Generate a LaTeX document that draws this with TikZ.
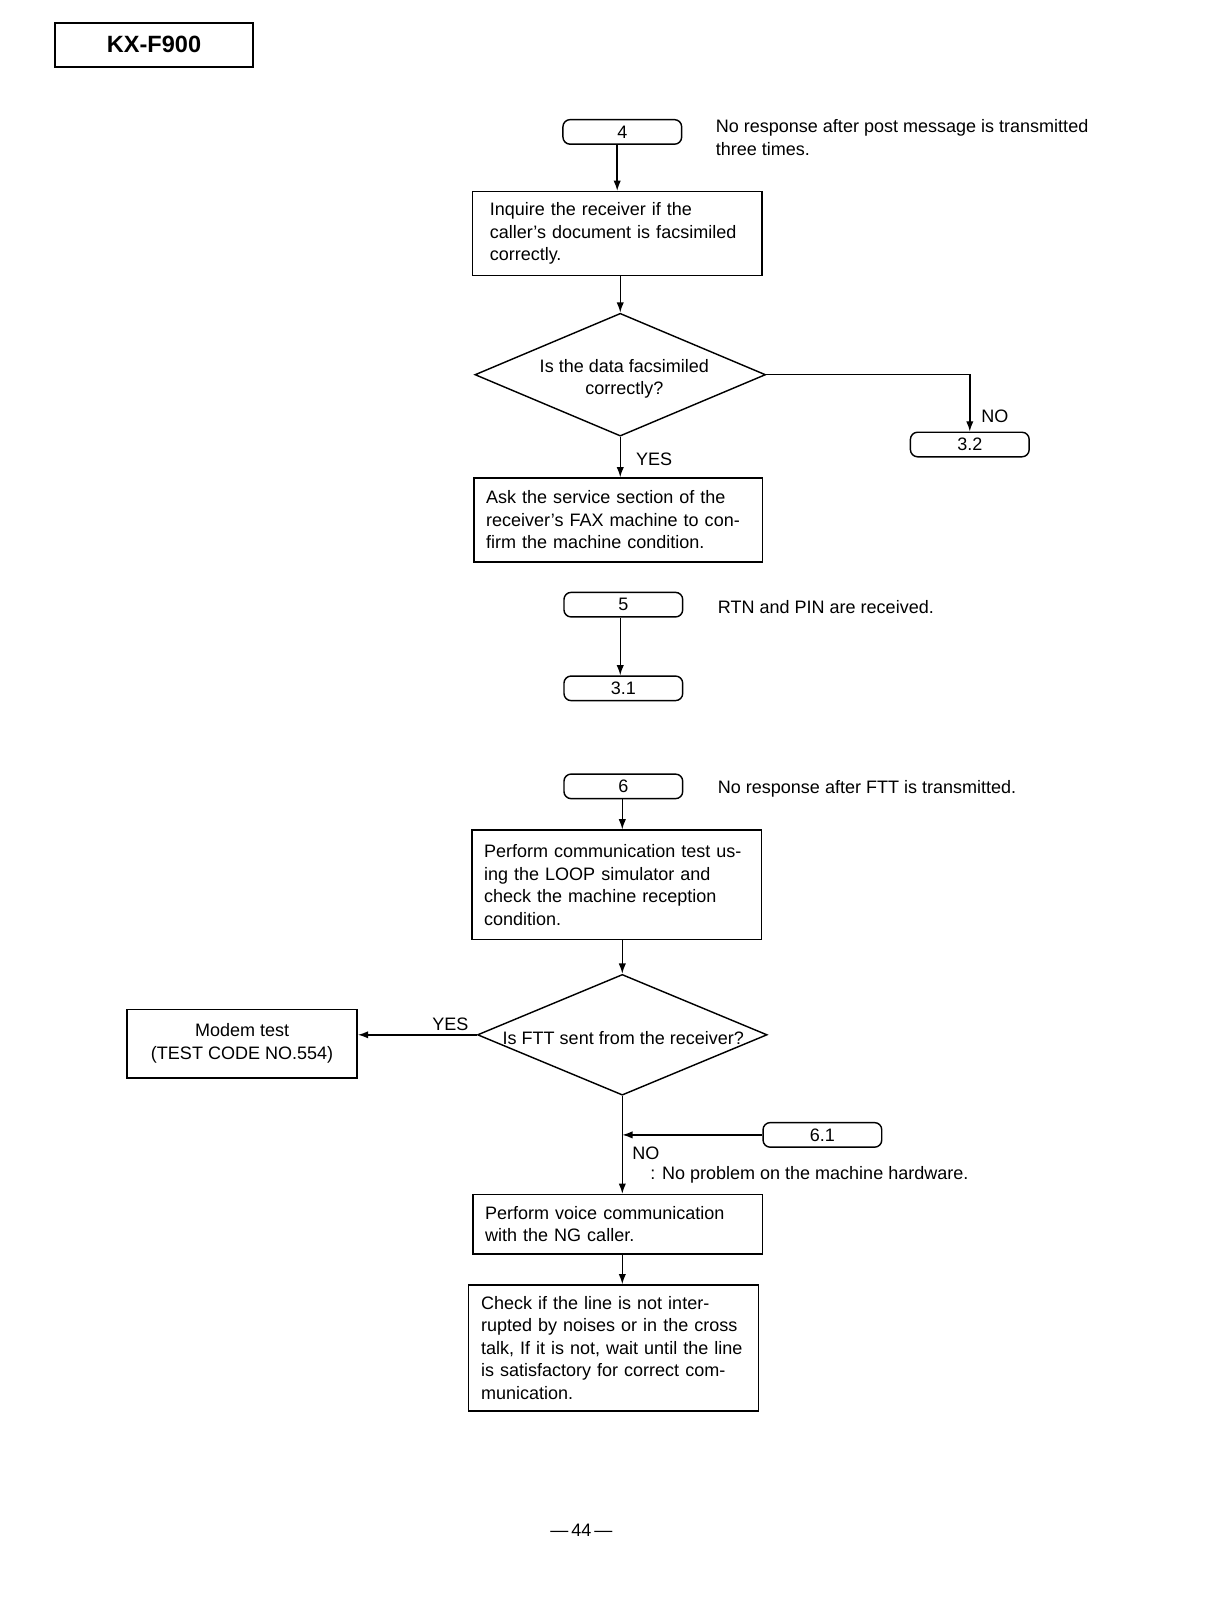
\documentclass[tikz,border=0pt]{standalone}
\usepackage{fontspec}
\setmainfont{Liberation Sans}
\usetikzlibrary{shapes.geometric,arrows.meta}
\begin{document}
\begin{tikzpicture}[x=0.5pt,y=-0.5015pt,
  every node/.style={font=\fontsize{8.8}{11}\selectfont},
  proc/.style={draw, line width=0.7pt, rectangle, align=left, inner xsep=6pt, inner ysep=2pt},
  term/.style={draw, line width=0.7pt, rectangle, rounded corners=3.5pt, minimum width=58pt, minimum height=12pt, inner sep=0pt},
  dec/.style={draw, diamond, line width=0.7pt, aspect=2.37, inner sep=0pt, align=center},
  note/.style={inner sep=0pt, align=left},
  lab/.style={inner sep=0pt},
  arr/.style={line width=0.7pt, -{Latex[length=5pt,width=3.6pt]}},
  ln/.style={line width=0.7pt}
]
\useasboundingbox (0pt,0pt) rectangle (594pt,-786.5pt);
\begin{scope}[xshift=1pt]
% header
\node[draw, line width=0.9pt, minimum width=96.5pt, minimum height=21.5pt, inner sep=0pt,
      font=\bfseries\fontsize{11.5}{14}\selectfont] (hdr) at (148.5,43.5) {KX-F900};

% section 4
\node[term] (t4) at (606,128.5) {4};
\node[note, anchor=west] (n4) at (697,134) {No response after post message is transmitted\\three times.};
\node[proc, minimum width=141.5pt, minimum height=41pt, text width=124.5pt, inner xsep=8.5pt] (b1) at (601,227.5)
  {Inquire the receiver if the\\caller's document is facsimiled\\correctly.};
\node[dec, minimum width=142pt, minimum height=60pt] (d1) at (604,365) {};
\node[lab, align=center] (d1t) at (608,369) {Is the data facsimiled\\correctly?};
\node[term] (t32) at (945.5,433) {3.2};
\node[lab] (no1) at (970,406) {NO};
\node[lab] (yes1) at (637,447) {YES};
\node[proc, minimum width=141pt, minimum height=41pt, text width=129pt] (b2) at (602,506.5)
  {Ask the service section of the\\receiver's FAX machine to con-\\firm the machine condition.};

\draw[arr] (t4.south -| b1.north) -- (b1.north);
\draw[arr] (b1.south -| d1.north) -- (d1.north);
\draw[arr] (d1.east) -| (t32.north);
\draw[arr] (d1.south) -- (d1.south |- b2.north);

% section 5
\node[term] (t5) at (607,589) {5};
\node[note, anchor=west] (n5) at (699,591) {RTN and PIN are received.};
\node[term] (t31) at (607,670.5) {3.1};
\draw[arr] ([xshift=-1.5pt]t5.south) -- ([xshift=-1.5pt]t31.north);

% section 6
\node[term] (t6) at (607,766) {6};
\node[note, anchor=west] (n6) at (699,768) {No response after FTT is transmitted.};
\node[proc, minimum width=141.5pt, minimum height=53.5pt, text width=129.5pt] (b3) at (600.5,862)
  {Perform communication test us-\\ing the LOOP simulator and\\check the machine reception\\condition.};
\node[dec, minimum width=141.5pt, minimum height=59pt] (d2) at (606,1008) {};
\node[lab] (d2t) at (607,1011) {Is FTT sent from the receiver?};
\node[proc, align=center, minimum width=112.5pt, minimum height=33.5pt] (modem) at (234.5,1016.5)
  {Modem test\\(TEST CODE NO.554)};
\node[lab] (yes2) at (438,998) {YES};
\node[term] (t61) at (801.5,1105.5) {6.1};
\node[lab] (no2) at (629,1123) {NO};
\node[note, anchor=west] (n61) at (633,1144) {: No problem on the machine hardware.};
\node[proc, minimum width=141.5pt, minimum height=29pt, text width=129.5pt] (b4) at (601.5,1192.5)
  {Perform voice communication\\with the NG caller.};
\node[proc, minimum width=141.5pt, minimum height=61.5pt, text width=129.5pt] (b5) at (597.5,1313)
  {Check if the line is not inter-\\rupted by noises or in the cross\\talk, If it is not, wait until the line\\is satisfactory for correct com-\\munication.};

\coordinate (j61) at (d2.south |- t61.west);
\draw[arr] (t6.south -| d2.north) -- (d2.north |- b3.north);
\draw[arr] (d2.north |- b3.south) -- (d2.north);
\draw[arr] (d2.west) -- (d2.west -| modem.east);
\draw[arr] (d2.south) -- (d2.south |- b4.north);
\draw[arr] (t61.west) -- (j61);
\draw[arr] (d2.south |- b4.south) -- (d2.south |- b5.north);

% page number
\node[lab] (pg) at (566,1491) {\textemdash\,44\,\textemdash};
\end{scope}
\end{tikzpicture}
\end{document}
